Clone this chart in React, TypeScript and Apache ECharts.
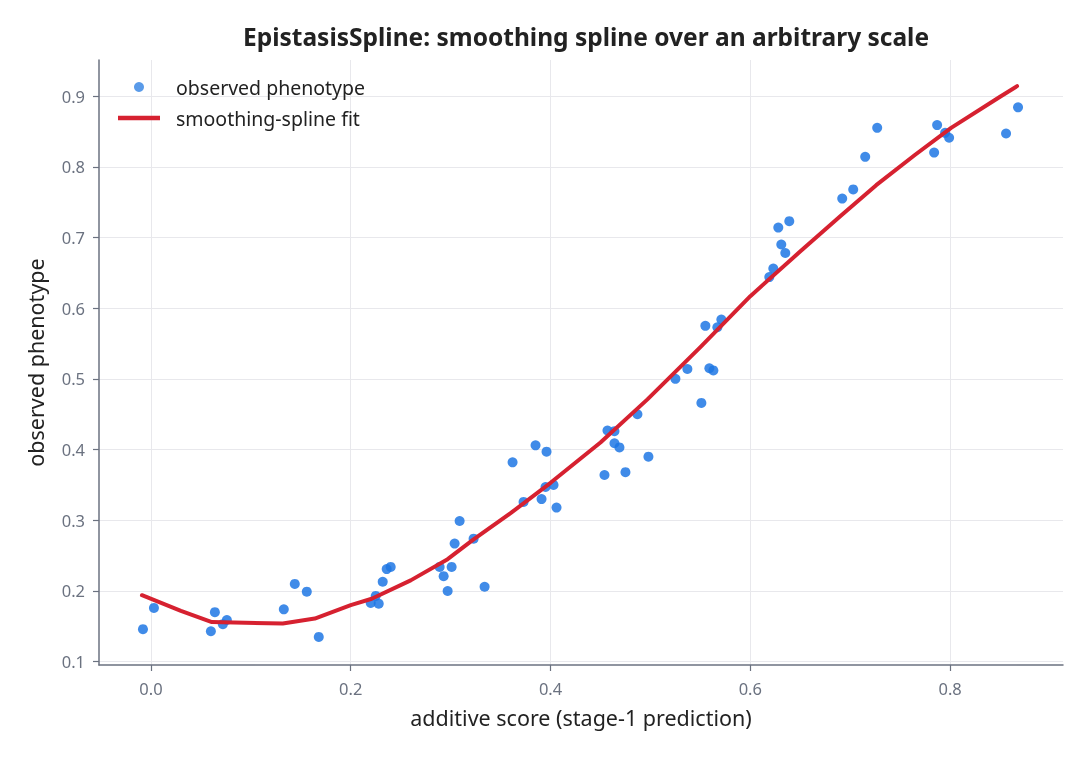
import React, { useEffect, useRef } from "react";
import * as echarts from "echarts";

const obsX = [
  -0.008, 0.003, 0.06, 0.064, 0.072, 0.076, 0.133, 0.144, 0.156, 0.168,
  0.22, 0.225, 0.228, 0.232, 0.236, 0.24, 0.289, 0.293, 0.297, 0.301,
  0.304, 0.309, 0.323, 0.334, 0.362, 0.373, 0.385, 0.391, 0.395, 0.396,
  0.403, 0.406, 0.454, 0.457, 0.464, 0.464, 0.469, 0.475, 0.487, 0.498,
  0.525, 0.537, 0.551, 0.555, 0.559, 0.563, 0.567, 0.571, 0.619, 0.623,
  0.628, 0.631, 0.635, 0.639, 0.692, 0.703, 0.715, 0.727, 0.784, 0.787,
  0.795, 0.799, 0.856, 0.868,
];
const obsY = [
  0.146, 0.176, 0.143, 0.17, 0.153, 0.159, 0.174, 0.21, 0.199, 0.135,
  0.183, 0.193, 0.182, 0.213, 0.231, 0.234, 0.234, 0.221, 0.2, 0.234,
  0.267, 0.299, 0.274, 0.206, 0.382, 0.326, 0.406, 0.33, 0.347, 0.397,
  0.35, 0.318, 0.364, 0.427, 0.426, 0.409, 0.403, 0.368, 0.45, 0.39,
  0.5, 0.514, 0.466, 0.575, 0.515, 0.512, 0.573, 0.584, 0.644, 0.656,
  0.714, 0.69, 0.678, 0.723, 0.755, 0.768, 0.814, 0.855, 0.82, 0.859,
  0.848, 0.841, 0.847, 0.884,
];

const fitX = [-0.009, 0.03, 0.061, 0.132, 0.164, 0.2, 0.221, 0.26, 0.297, 0.323, 0.36, 0.4, 0.45, 0.497, 0.55, 0.6, 0.649, 0.69, 0.726, 0.765, 0.801, 0.85, 0.867];
const fitY = [0.194, 0.172, 0.156, 0.154, 0.161, 0.18, 0.189, 0.215, 0.245, 0.273, 0.31, 0.353, 0.41, 0.471, 0.545, 0.617, 0.679, 0.73, 0.774, 0.817, 0.855, 0.899, 0.914];

const xTicks = [0, 0.2, 0.4, 0.6, 0.8];
const yTicks = [0.1, 0.2, 0.3, 0.4, 0.5, 0.6, 0.7, 0.8, 0.9];

const FONT = "'Noto Sans', 'Open Sans', sans-serif";

export default function App() {
  const ref = useRef<HTMLDivElement>(null);
  useEffect(() => {
    if (!ref.current) return;
    const chart = echarts.init(ref.current, undefined, { renderer: "svg" });
    const axisLine = { show: true, onZero: false, lineStyle: { color: "#6b7280", width: 1.5 } };
    const tick = { show: true, length: 6, lineStyle: { color: "#6b7280", width: 1.2 } };
    const split = { show: true, lineStyle: { color: "#e8e8ec", width: 1 } };
    const nameStyle = { color: "#222", fontSize: 21.5, fontFamily: FONT };
    const labelStyle = { color: "#6b7280", fontSize: 16.5, fontFamily: FONT };
    chart.setOption({
      animation: false,
      textStyle: { fontFamily: FONT },
      title: {
        text: "EpistasisSpline: smoothing spline over an arbitrary scale",
        left: 581,
        textAlign: "center",
        top: 19,
        textStyle: { fontSize: 24.5, fontWeight: "bold", color: "#222", fontFamily: FONT },
      },
      legend: {
        left: 113,
        top: 72,
        orient: "vertical",
        itemGap: 11,
        itemWidth: 42,
        itemHeight: 10,
        textStyle: { fontSize: 19.5, color: "#222", fontFamily: FONT, padding: [0, 0, 0, 11] },
        data: [
          { name: "observed phenotype", icon: "circle", itemStyle: { color: "#3d8ae5" } },
          { name: "smoothing-spline fit", icon: "path://M0,0 L42,0 L42,4.5 L0,4.5 Z", itemStyle: { color: "#d62130" } },
        ],
      },
      grid: { left: 99, right: 26, top: 60, bottom: 94 },
      xAxis: {
        type: "value",
        min: -0.052,
        max: 0.913,
        name: "additive score (stage-1 prediction)",
        nameLocation: "middle",
        nameGap: 41,
        nameTextStyle: nameStyle,
        axisLine,
        axisTick: { ...tick, customValues: xTicks },
        splitLine: split,
        axisLabel: {
          ...labelStyle,
          customValues: xTicks,
          margin: 15,
          formatter: (v: number) => v.toFixed(1),
        },
      },
      yAxis: {
        type: "value",
        min: 0.0953,
        max: 0.951,
        name: "observed phenotype",
        nameLocation: "middle",
        nameGap: 53,
        nameTextStyle: nameStyle,
        axisLine,
        axisTick: { ...tick, customValues: yTicks },
        splitLine: split,
        axisLabel: {
          ...labelStyle,
          customValues: yTicks,
          margin: 14,
          formatter: (v: number) => v.toFixed(1),
        },
      },
      series: [
        {
          name: "observed phenotype",
          type: "scatter",
          symbolSize: 10,
          itemStyle: { color: "#1f77e4", opacity: 0.85 },
          data: obsX.map((x, i) => [x, obsY[i]]),
          z: 2,
        },
        {
          name: "smoothing-spline fit",
          type: "line",
          showSymbol: false,
          symbol: "none",
          smooth: false,
          lineStyle: { color: "#d62130", width: 4, cap: "round", join: "round" },
          itemStyle: { color: "#d62130" },
          data: fitX.map((x, i) => [x, fitY[i]]),
          z: 3,
        },
      ],
    });
    return () => chart.dispose();
  }, []);
  return <div ref={ref} style={{ position: "fixed", left: 0, top: 0, width: 1089, height: 759 }} />;
}
